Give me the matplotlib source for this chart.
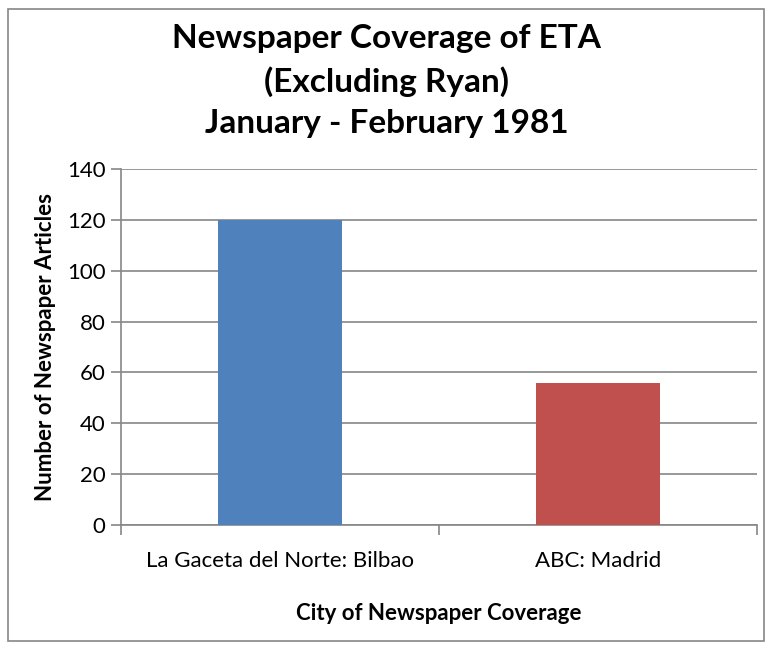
import matplotlib.pyplot as plt
from matplotlib.patches import Rectangle
import numpy as np

# data
cities = ['La Gaceta del Norte: Bilbao', 'ABC: Madrid']
articles = [120, 56]
bar_colors = ['#4f81bd', '#c0504d']
y_ticks = [0, 20, 40, 60, 80, 100, 120, 140]

plt.rcParams['font.family'] = ['Lato', 'DejaVu Sans']

fig = plt.figure(figsize=(7.73, 6.48), dpi=100)
W, H = 773, 648
ax = fig.add_axes([121 / W, 1 - 525 / H, (757 - 121) / W, (525 - 169) / H])

x = np.arange(len(cities))
ax.bar(x, articles, width=0.39, color=bar_colors, zorder=3)

ax.set_xlim(-0.5, len(cities) - 0.5)
ax.set_ylim(0, 140)
ax.set_yticks(y_ticks)
ax.yaxis.grid(True, color='#868686', linewidth=1.2, zorder=0)
ax.tick_params(axis='y', labelsize=16, length=7, width=1.2, color='#868686', pad=4)

# category labels between boundary ticks
ax.set_xticks([-0.5, 0.5, 1.5])
ax.set_xticklabels([])
ax.set_xticks(x, minor=True)
ax.set_xticklabels(cities, minor=True, fontsize=16)
ax.tick_params(axis='x', which='major', length=7, width=1.2, color='#868686')
ax.tick_params(axis='x', which='minor', length=0, pad=19)

for side in ['top', 'right']:
    ax.spines[side].set_visible(False)
for side in ['left', 'bottom']:
    ax.spines[side].set_color('#868686')
    ax.spines[side].set_linewidth(1.2)

ax.set_ylabel('Number of Newspaper Articles', fontsize=16, fontweight='bold', labelpad=8)
ax.set_xlabel('City of Newspaper Coverage', fontsize=16, fontweight='bold', labelpad=23)

fig.suptitle('Newspaper Coverage of ETA\n(Excluding Ryan)\nJanuary - February 1981',
             fontsize=24, fontweight='bold', y=1 - 24 / H, va='top', linespacing=1.5)

# outer chart border
fig.patches.append(Rectangle((8 / W, 7 / H), 756 / W, 632 / H, transform=fig.transFigure,
                             fill=False, edgecolor='#868686', linewidth=1.2))

fig.savefig('out.png', dpi=100)
